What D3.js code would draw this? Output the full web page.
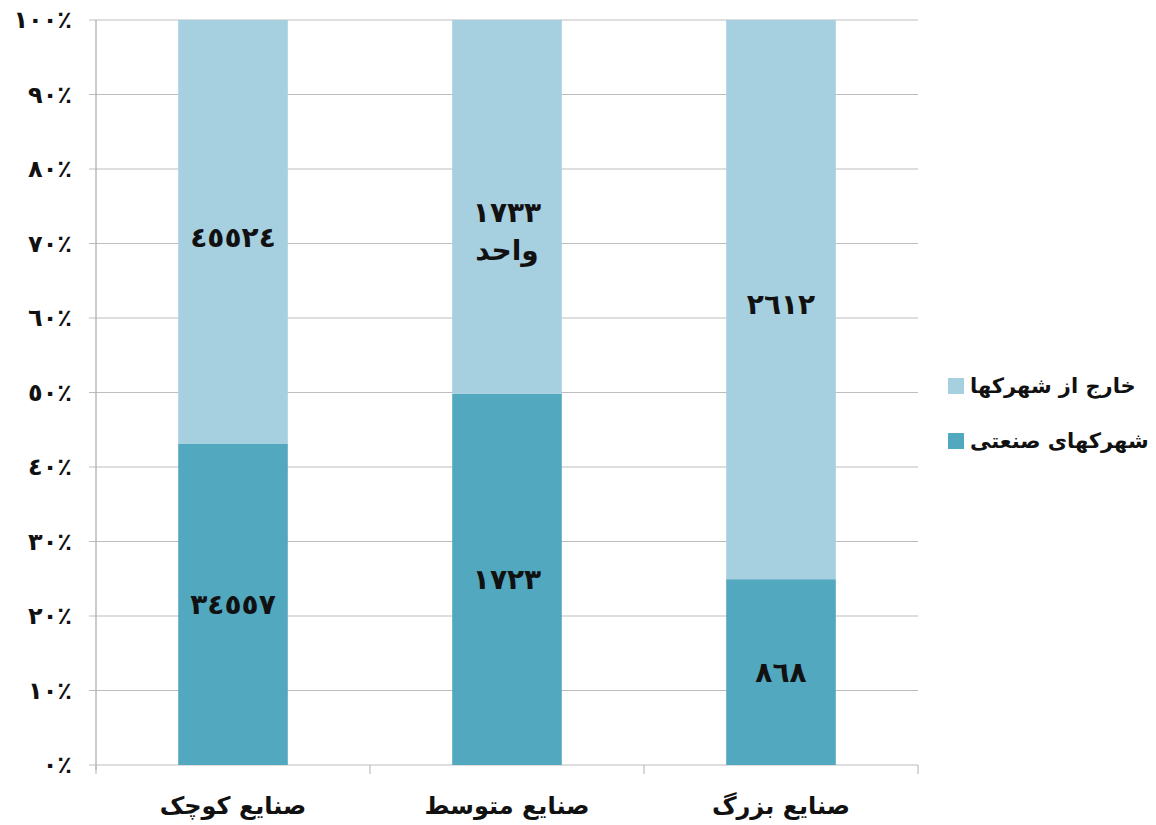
<!DOCTYPE html>
<html><head><meta charset="utf-8">
<script src="https://cdn.jsdelivr.net/npm/d3@7"></script>
<style>body{margin:0;background:#fff}svg{display:block}text{font-family:"DejaVu Sans",sans-serif;font-weight:bold;fill:#111}</style>
</head><body><svg id="c" width="1156" height="825"></svg>
<script>
const categories = ["صنایع کوچک", "صنایع متوسط", "صنایع بزرگ"];
const seriesNames = ["شهرکهای صنعتی", "خارج از شهرکها"];
const insideParks = [34557, 1723, 868];
const outsideParks = [45524, 1733, 2612];
const insideLabels = ["٣٤٥٥٧", "١٧٢٣", "٨٦٨"];
const outsideLabels = [["٤٥٥٢٤"], ["١٧٣٣", "واحد"], ["٢٦١٢"]];
const yTicks = [0, 10, 20, 30, 40, 50, 60, 70, 80, 90, 100];
const yTickLabels = ["٠٪","١٠٪","٢٠٪","٣٠٪","٤٠٪","٥٠٪","٦٠٪","٧٠٪","٨٠٪","٩٠٪","١٠٠٪"];
const colors = ["#52a8bf", "#a6cfe0"];

const svg = d3.select("#c");
const m = {l: 96, r: 918, t: 20, b: 765};
const x = d3.scaleBand().domain(categories).range([m.l, m.r]).paddingInner(0).paddingOuter(0);
const y = d3.scaleLinear().domain([0, 100]).range([m.b, m.t]);
const barW = x.bandwidth() * 0.4;

// gridlines
svg.append("g").selectAll("line").data(yTicks).join("line")
  .attr("x1", m.l - 7).attr("x2", m.r).attr("y1", d => y(d)).attr("y2", d => y(d))
  .attr("stroke", "#bdbdbd").attr("stroke-width", 1.2);
// y axis line
svg.append("line").attr("x1", m.l).attr("x2", m.l).attr("y1", m.t).attr("y2", m.b + 5)
  .attr("stroke", "#a8a8a8").attr("stroke-width", 1.2);
// category ticks
svg.append("g").selectAll("line").data(categories.concat(["end"])).join("line")
  .attr("x1", (d, i) => m.l + i * x.bandwidth()).attr("x2", (d, i) => m.l + i * x.bandwidth())
  .attr("y1", m.b).attr("y2", m.b + 9).attr("stroke", "#bdbdbd").attr("stroke-width", 1.2);

// y tick labels
svg.append("g").selectAll("text").data(yTicks).join("text")
  .attr("x", 72).attr("y", d => y(d)).attr("dy", "0.35em").attr("text-anchor", "end")
  .attr("direction", "ltr").style("font-size", "24px").text((d, i) => yTickLabels[i]);

// stacked data
const rows = categories.map((c, i) => {
  const tot = insideParks[i] + outsideParks[i];
  const p0 = insideParks[i] / tot * 100;
  return {c, i, p0};
});

const bars = svg.append("g");
bars.selectAll("rect.in").data(rows).join("rect").attr("class", "in")
  .attr("x", d => x(d.c) + (x.bandwidth() - barW) / 2).attr("width", barW)
  .attr("y", d => y(d.p0)).attr("height", d => y(0) - y(d.p0)).attr("fill", colors[0]);
bars.selectAll("rect.out").data(rows).join("rect").attr("class", "out")
  .attr("x", d => x(d.c) + (x.bandwidth() - barW) / 2).attr("width", barW)
  .attr("y", d => y(100)).attr("height", d => y(d.p0) - y(100)).attr("fill", colors[1]);

// labels
svg.append("g").selectAll("text").data(rows).join("text")
  .attr("x", d => x(d.c) + x.bandwidth() / 2).attr("y", d => y(d.p0 / 2))
  .attr("dy", "0.35em").attr("text-anchor", "middle").style("font-size", "28px")
  .text(d => insideLabels[d.i]);
rows.forEach(d => {
  const lines = outsideLabels[d.i];
  const cy = y((d.p0 + 100) / 2) + (lines.length > 1 ? 24 : 5);
  lines.forEach((t, k) => {
    svg.append("text").attr("x", x(d.c) + x.bandwidth() / 2)
      .attr("y", cy + (k - (lines.length - 1) / 2) * 38).attr("dy", "0.35em")
      .attr("text-anchor", "middle").style("font-size", "28px").text(t);
  });
});

// category labels
svg.append("g").selectAll("text").data(categories).join("text")
  .attr("x", d => x(d) + x.bandwidth() / 2).attr("y", 806).attr("dy", "0.35em")
  .attr("text-anchor", "middle").style("font-size", "24px").text(d => d);

// legend
const leg = [{n: seriesNames[1], c: colors[1], y: 386}, {n: seriesNames[0], c: colors[0], y: 441}];
const lg = svg.append("g");
lg.selectAll("rect").data(leg).join("rect")
  .attr("x", 948).attr("y", d => d.y - 8).attr("width", 16).attr("height", 16).attr("fill", d => d.c);
lg.selectAll("text").data(leg).join("text")
  .attr("x", 970).attr("y", d => d.y).attr("dy", "0.35em").attr("text-anchor", "start")
  .style("font-size", "21px").text(d => d.n);
</script></body></html>
